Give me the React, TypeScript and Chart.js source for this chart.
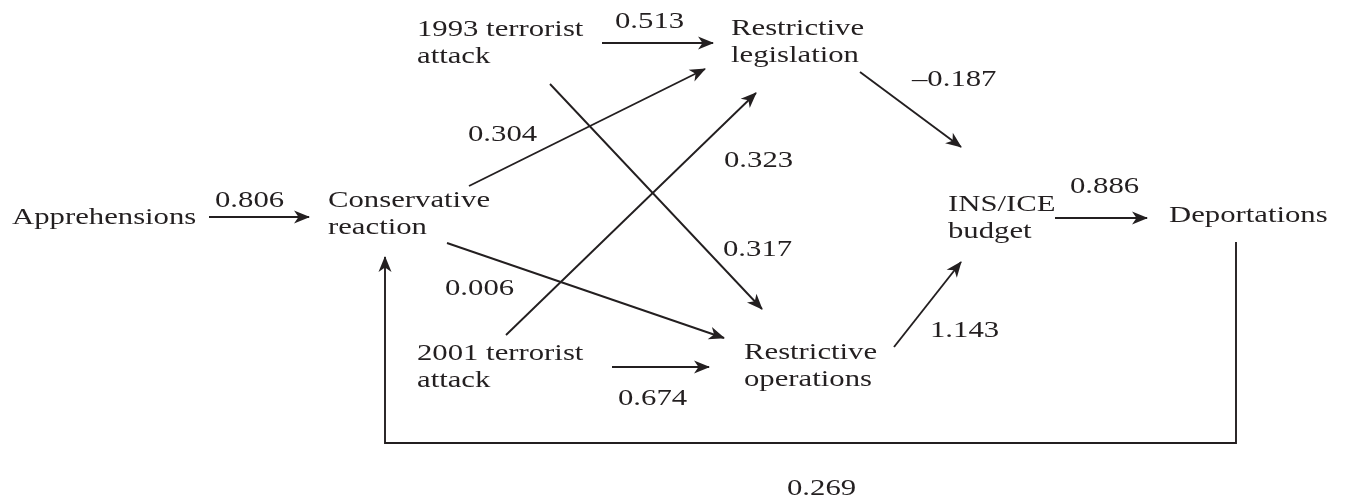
import { useEffect, useRef } from "react";
import { Chart, registerables } from "chart.js";

Chart.register(...registerables);

// Diagram nodes (multi-line labels); anchor = left edge / first-line baseline in chart units
const nodeNames: string[][] = [
  ["Apprehensions"],
  ["Conservative", "reaction"],
  ["1993 terrorist", "attack"],
  ["Restrictive", "legislation"],
  ["2001 terrorist", "attack"],
  ["Restrictive", "operations"],
  ["INS/ICE", "budget"],
  ["Deportations"],
];
const nodeX = [12, 328, 417, 731, 417, 744, 948, 1169];
const nodeY = [224, 207, 36, 35, 360, 359, 211, 222];

// Path coefficients
const coefficients = ["0.806", "0.513", "0.304", "0.323", "\u20130.187", "0.317", "0.006", "0.674", "1.143", "0.886", "0.269"];
const coefX = [215, 615, 468, 724, 912, 723, 445, 618, 930, 1070, 787];
const coefY = [207, 28, 141, 167, 86, 256, 295, 405, 337, 193, 495];

// Arrow paths (each ends at an arrow tip)
const pathX: number[][] = [
  [209, 309],
  [602, 713],
  [469, 705],
  [506, 756],
  [550, 762],
  [447, 724],
  [612, 709],
  [860, 961],
  [894, 961],
  [1055, 1147],
  [1236, 1236, 385, 385],
];
const pathY: number[][] = [
  [217, 217],
  [43, 43],
  [186, 69],
  [335, 93],
  [84, 309],
  [243, 338],
  [367, 367],
  [72, 147],
  [347, 262],
  [218, 218],
  [242, 443, 443, 257],
];

const INK = "#231f20";
const FONT = '24px "Liberation Serif", "Times New Roman", serif';
const STRETCH = 1.28;
const LINE_GAP = 27;

const arrowHeads = {
  id: "arrowHeads",
  afterDatasetsDraw(chart: any) {
    const ctx = chart.ctx as CanvasRenderingContext2D;
    chart.data.datasets.forEach((_: any, i: number) => {
      const pts = chart.getDatasetMeta(i).data;
      const n = pts.length;
      if (n < 2) return;
      const a = pts[n - 2];
      const b = pts[n - 1];
      const ang = Math.atan2(b.y - a.y, b.x - a.x);
      ctx.save();
      ctx.translate(b.x, b.y);
      ctx.rotate(ang);
      ctx.fillStyle = INK;
      ctx.beginPath();
      ctx.moveTo(1, 0);
      ctx.lineTo(-15, -6.5);
      ctx.lineTo(-10.5, 0);
      ctx.lineTo(-15, 6.5);
      ctx.closePath();
      ctx.fill();
      ctx.restore();
    });
  },
};

const drawStretched = (ctx: CanvasRenderingContext2D, t: string, x: number, y: number) => {
  ctx.save();
  ctx.translate(x, y);
  ctx.scale(STRETCH, 1);
  ctx.fillText(t, 0, 0);
  ctx.restore();
};

const labels = {
  id: "labels",
  afterDraw(chart: any) {
    const ctx = chart.ctx as CanvasRenderingContext2D;
    const sx = chart.scales.x;
    const sy = chart.scales.y;
    ctx.save();
    ctx.font = FONT;
    ctx.fillStyle = INK;
    ctx.textAlign = "left";
    ctx.textBaseline = "alphabetic";
    nodeNames.forEach((lines, i) => {
      lines.forEach((t, j) => {
        drawStretched(ctx, t, sx.getPixelForValue(nodeX[i]), sy.getPixelForValue(nodeY[i]) + j * LINE_GAP);
      });
    });
    coefficients.forEach((t, i) => {
      drawStretched(ctx, t, sx.getPixelForValue(coefX[i]), sy.getPixelForValue(coefY[i]));
    });
    ctx.restore();
  },
};

export default function App() {
  const ref = useRef<HTMLCanvasElement>(null);
  useEffect(() => {
    const chart = new Chart(ref.current!, {
      type: "scatter",
      data: {
        datasets: pathX.map((xs, i) => ({
          data: xs.map((x, k) => ({ x, y: pathY[i][k] })),
          showLine: true,
          borderColor: INK,
          borderWidth: 1.9,
          pointRadius: 0,
          fill: false,
          tension: 0,
          clip: false as any,
        })),
      },
      options: {
        animation: false,
        responsive: false,
        events: [],
        layout: { padding: 0 },
        plugins: { legend: { display: false }, tooltip: { enabled: false } },
        scales: {
          x: { type: "linear", min: 0, max: 1352, display: false },
          y: { type: "linear", min: 0, max: 502, reverse: true, display: false },
        },
      },
      plugins: [arrowHeads, labels],
    });
    return () => chart.destroy();
  }, []);
  return (
    <div style={{ position: "absolute", left: 0, top: 0, width: 1352, height: 502, background: "#fff" }}>
      <canvas ref={ref} width={1352} height={502} style={{ width: 1352, height: 502, display: "block" }} />
    </div>
  );
}
